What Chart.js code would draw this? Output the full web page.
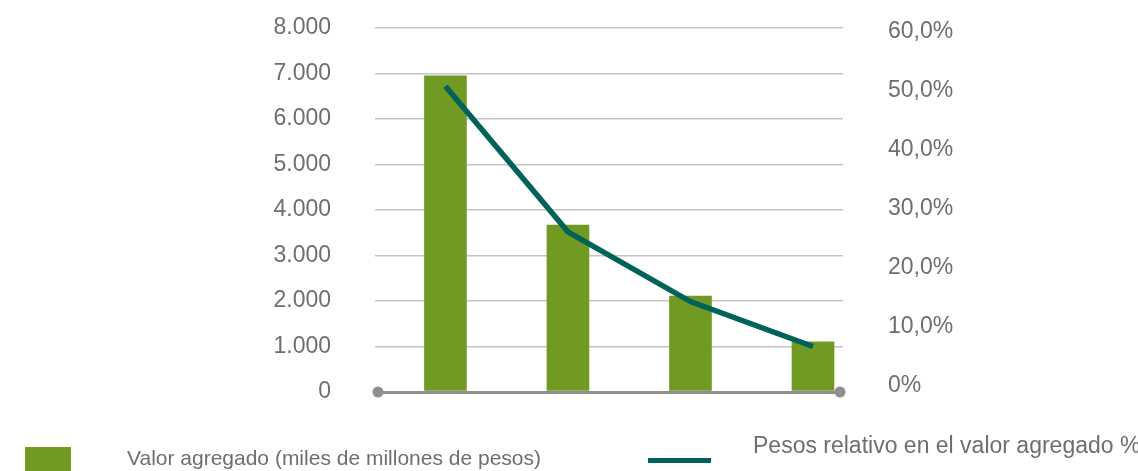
<!DOCTYPE html>
<html>
<head>
<meta charset="utf-8">
<script src="https://cdn.jsdelivr.net/npm/chart.js@4/dist/chart.umd.min.js"></script>
<style>
    body { margin: 0; background: #fff; }
    #wrap { position: relative; width: 1138px; height: 471px; overflow: hidden; }
    .leg { position: absolute; font-family: "Liberation Sans", Arial, sans-serif; font-size: 21px; color: #6d6e71; white-space: nowrap; }
    .box { position: absolute; left: 25px; top: 447px; width: 46px; height: 26px; background: #709a22; }
    .ln { position: absolute; left: 648px; top: 458px; width: 63px; height: 5px; background: #006259; }
</style>
</head>
<body>
<div id="wrap">
    <canvas id="chart" width="1138" height="471"></canvas>
    <div class="box"></div>
    <div class="leg" style="left:127px; top:446px;">Valor agregado (miles de millones de pesos)</div>
    <div class="ln"></div>
    <div class="leg" style="left:753px; top:432px; font-size:23px;">Pesos relativo en el valor agregado %</div>
</div>
<script>
// dati
var categories = ['1', '2', '3', '4'];
var valorAgregado = [6950, 3670, 2110, 1100]; // miles de millones de pesos
var pesoRelativo = [50.4, 26.4, 14.9, 7.5]; // %
var leftTicks = [0, 1000, 2000, 3000, 4000, 5000, 6000, 7000, 8000];
var rightTicks = [0, 10, 20, 30, 40, 50, 60];

var font = { family: '"Liberation Sans", Arial, sans-serif', size: 23 };
var grey = '#6d6e71';

function toPoints(values) { // ogni categoria diventa un punto x = 1..n
    return values.map(function (v, i) {
        return { x: i + 1, y: v };
    });
}

function fmtThousands(v) {
    return String(v).replace(/\B(?=(\d{3})+(?!\d))/g, '.');
}

var baseline = { // linea base con i pallini alle estremità
    id: 'baseline',
    afterDatasetsDraw: function (chart) {
        var ctx = chart.ctx;
        var area = chart.chartArea;
        var y = chart.scales.y.getPixelForValue(0);
        ctx.save();
        ctx.fillStyle = '#8e8e93';
        [area.left + 3, area.right - 3].forEach(function (x) {
            ctx.beginPath();
            ctx.arc(x, y, 5.5, 0, Math.PI * 2);
            ctx.fill();
        });
        ctx.restore();
    }
};

new Chart(document.getElementById('chart'), {
    type: 'bar',
    data: {
        labels: categories,
        datasets: [{
            type: 'line',
            label: 'Pesos relativo en el valor agregado %',
            data: toPoints(pesoRelativo),
            yAxisID: 'y1',
            borderColor: '#006259',
            borderWidth: 5.5,
            pointRadius: 0,
            tension: 0,
            order: 0
        }, {
            label: 'Valor agregado (miles de millones de pesos)',
            data: toPoints(valorAgregado),
            yAxisID: 'y',
            backgroundColor: '#709a22',
            barThickness: 42,
            order: 1
        }]
    },
    options: {
        responsive: false,
        animation: false,
        layout: { padding: { top: 28, bottom: 79, left: 0, right: 0 } },
        plugins: { legend: { display: false }, tooltip: { enabled: false } },
        scales: {
            x: {
                type: 'linear',
                display: false,
                offset: false,
                min: 0.425,
                max: 4.245
            },
            y: {
                position: 'left',
                min: 0,
                max: 8000,
                afterBuildTicks: function (scale) {
                    scale.ticks = leftTicks.map(function (v) { return { value: v }; });
                },
                afterFit: function (scale) {
                    scale.width = 375;
                    scale.paddingTop = 0;
                    scale.paddingBottom = 0;
                },
                border: { display: false },
                grid: {
                    drawTicks: false,
                    color: function (c) { return c.tick && c.tick.value === 0 ? '#8e8e93' : '#c4c4c4'; },
                    lineWidth: function (c) { return c.tick && c.tick.value === 0 ? 3 : 1.5; }
                },
                ticks: {
                    padding: 44,
                    color: grey,
                    font: font,
                    callback: function (v) { return fmtThousands(v); }
                }
            },
            y1: {
                display: false,
                min: 0,
                max: 60
            },
            yl: {
                position: 'right',
                min: -1,
                max: 60.6,
                afterBuildTicks: function (scale) {
                    scale.ticks = rightTicks.map(function (v) { return { value: v }; });
                },
                afterFit: function (scale) {
                    scale.width = 1138 - 843;
                    scale.paddingTop = 0;
                    scale.paddingBottom = 0;
                },
                border: { display: false },
                grid: { display: false, drawTicks: false },
                ticks: {
                    padding: 45,
                    color: grey,
                    font: font,
                    callback: function (v) { return v === 0 ? '0%' : v + ',0%'; }
                }
            }
        }
    },
    plugins: [baseline]
});
</script>
</body>
</html>
